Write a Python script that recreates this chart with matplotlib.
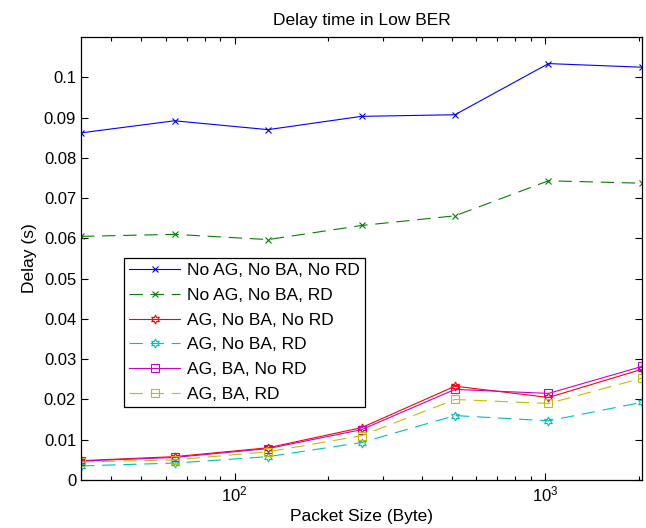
import numpy as np
import matplotlib
matplotlib.use('Agg')
from matplotlib import pyplot as plt
from matplotlib.ticker import FuncFormatter, LogLocator

# Packet sizes and delays #
packet_size = [32, 64, 128, 256, 512, 1024, 2048]
no_ag_no_ba_no_rd = [0.0862, 0.0892, 0.0870, 0.0903, 0.0907, 0.1034, 0.1025]
no_ag_no_ba_rd = [0.0605, 0.0610, 0.0597, 0.0632, 0.0656, 0.0743, 0.0737]
ag_no_ba_no_rd = [0.0048, 0.0058, 0.0080, 0.0130, 0.0233, 0.0205, 0.0275]
ag_no_ba_rd = [0.0035, 0.0042, 0.0058, 0.0093, 0.0160, 0.0147, 0.0193]
ag_ba_no_rd = [0.0047, 0.0056, 0.0078, 0.0125, 0.0225, 0.0215, 0.0282]
ag_ba_rd = [0.0045, 0.0050, 0.0070, 0.0110, 0.0200, 0.0190, 0.0253]

labels = ['No AG, No BA, No RD', 'No AG, No BA, RD', 'AG, No BA, No RD',
          'AG, No BA, RD', 'AG, BA, No RD', 'AG, BA, RD']

plt.rcParams['font.family'] = ['Liberation Sans', 'DejaVu Sans']
plt.rcParams['mathtext.default'] = 'regular'
plt.rcParams['font.size'] = 12

fig = plt.figure(figsize=(6.46, 5.28), dpi=100)
ax = fig.add_axes([0.1254, 0.0909, 0.8684, 0.839])

dash = (0, (12, 7))
series = [
    (no_ag_no_ba_no_rd, (0, 0, 1), '-', 'x', 5),
    (no_ag_no_ba_rd, (0, 0.5, 0), dash, 'x', 5),
    (ag_no_ba_no_rd, (1, 0, 0), '-', (6, 1, 0), 6.5),
    (ag_no_ba_rd, (0, 0.75, 0.75), dash, (6, 1, 0), 6.5),
    (ag_ba_no_rd, (0.8, 0, 0.8), '-', 's', 5.5),
    (ag_ba_rd, (0.75, 0.75, 0), dash, 's', 5.5),
]
for (vals, col, ls, mk, ms), lab in zip(series, labels):
    ax.plot(packet_size, vals, color=col, linestyle=ls, marker=mk, markersize=ms,
            markerfacecolor='none', markeredgecolor=col, markeredgewidth=0.8,
            linewidth=0.8, label=lab)

ax.set_xscale('log')
ax.set_xlim(32, 2048)
ax.set_ylim(0, 0.110)
ax.set_yticks(np.arange(0, 0.101, 0.01))
ax.yaxis.set_major_formatter(FuncFormatter(lambda v, p: '%g' % round(v, 3)))
ax.xaxis.set_major_locator(LogLocator(base=10))
ax.xaxis.set_minor_locator(LogLocator(base=10, subs=np.arange(2, 10)))

ax.tick_params(which='both', direction='in', top=True, right=True, labelsize=12)
ax.tick_params(which='major', length=5, width=0.8)
ax.tick_params(which='minor', length=3, width=0.8)
for s in ax.spines.values():
    s.set_linewidth(0.9)

ax.set_title('Delay time in Low BER', fontsize=12.5, pad=9)
ax.set_xlabel('Packet Size (Byte)', fontsize=12.5, labelpad=3)
ax.set_ylabel('Delay (s)', fontsize=12.5, labelpad=5)

leg = ax.legend(loc='lower left', bbox_to_anchor=(0.077, 0.165), fontsize=12.5,
                handlelength=2.9, labelspacing=0.55, borderpad=0.3,
                handletextpad=0.4, fancybox=False, framealpha=1,
                edgecolor='black', borderaxespad=0)
leg.get_frame().set_linewidth(0.9)

fig.savefig('out.png', dpi=100)
